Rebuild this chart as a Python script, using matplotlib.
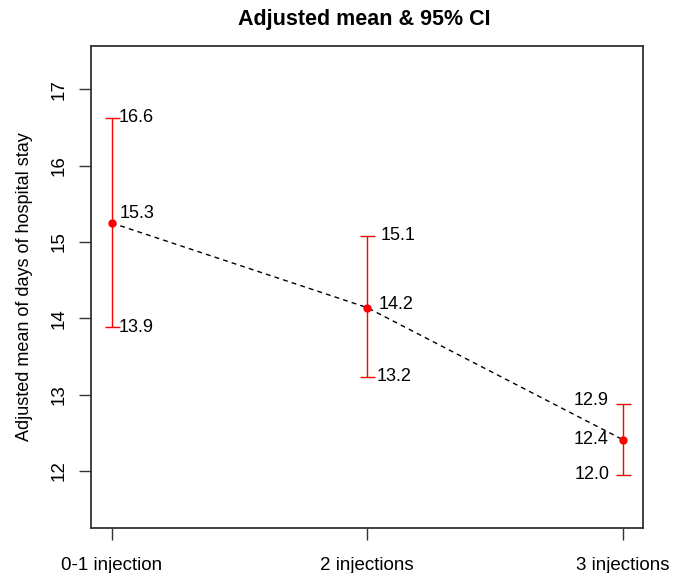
import matplotlib
matplotlib.use("Agg")
import matplotlib.pyplot as plt

plt.rcParams['font.family'] = ['Liberation Sans', 'DejaVu Sans']

categories = ["0-1 injection", "2 injections", "3 injections"]
means = [15.25, 14.14, 12.41]
lower = [13.88, 13.23, 11.95]
upper = [16.63, 15.08, 12.88]
mean_labels = ["15.3", "14.2", "12.4"]
lower_labels = ["13.9", "13.2", "12.0"]
upper_labels = ["16.6", "15.1", "12.9"]
yticks = [12, 13, 14, 15, 16, 17]

x = [1, 2, 3]

fig = plt.figure(figsize=(6.8, 5.73), dpi=100)
ax = fig.add_axes([91/680, 1-528/573, (643-91)/680, (528-46)/573])

ax.plot(x, means, linestyle=(0, (3.5, 3)), color='black', lw=1.0, zorder=2)
for xi, m, lo, up in zip(x, means, lower, upper):
    ax.errorbar([xi], [m], yerr=[[m-lo], [up-m]], fmt='none', ecolor='red',
                elinewidth=1.0, capsize=5.4, capthick=1.0, zorder=3)
ax.plot(x, means, 'o', color='red', ms=5, zorder=4)

fs = 13
# offsets in points (x, y)
up_off = [(5, 0), (10, 0), (-10, 2)]
mid_off = [(6, 7), (8, 2), (-10, 0)]
lo_off = [(5, 0), (7, 0), (-9, 0)]
for i, (xi, m, lo, up) in enumerate(zip(x, means, lower, upper)):
    ha = 'left' if i < 2 else 'right'
    ax.annotate(upper_labels[i], (xi, up), xytext=up_off[i], textcoords='offset points',
                ha=ha, va='center', fontsize=fs)
    ax.annotate(mean_labels[i], (xi, m), xytext=mid_off[i], textcoords='offset points',
                ha=ha, va='center', fontsize=fs)
    ax.annotate(lower_labels[i], (xi, lo), xytext=lo_off[i], textcoords='offset points',
                ha=ha, va='center', fontsize=fs)

ax.set_xlim(0.919, 3.08)
ax.set_ylim(11.25, 17.57)
ax.set_xticks(x)
ax.set_xticklabels(categories, fontsize=13.5)
ax.set_yticks(yticks)
ax.set_yticklabels([str(t) for t in yticks], fontsize=13.5, rotation=90, va='center')
ax.tick_params(axis='both', length=8.6, width=1.0, direction='out', colors='#333333',
               labelcolor='black')
ax.tick_params(axis='x', pad=12)
ax.tick_params(axis='y', pad=8)
ax.spines[:].set_color('#333333')
ax.spines[:].set_linewidth(1.3)

ax.set_ylabel("Adjusted mean of days of hospital stay", fontsize=13, labelpad=13)
fig.text(364/680, 1-20/573, "Adjusted mean & 95% CI", ha='center', va='center',
         fontsize=15.5, fontweight='bold')

fig.savefig("out.png", dpi=100)
